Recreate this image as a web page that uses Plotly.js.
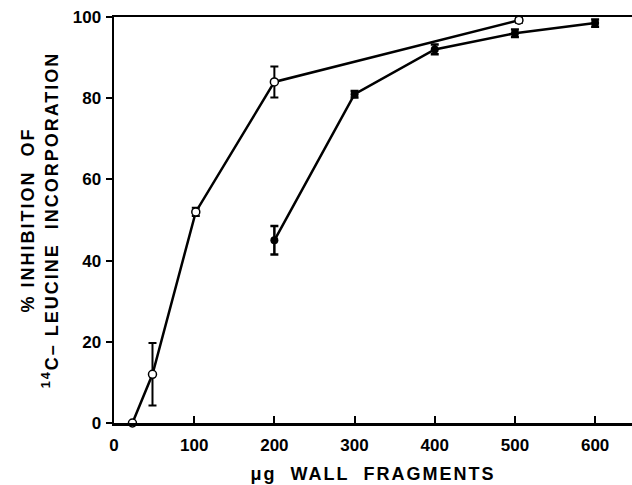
<!DOCTYPE html>
<html>
<head>
<meta charset="utf-8">
<script src="https://cdn.plot.ly/plotly-3.0.1.min.js"></script>
<style>
html,body{margin:0;padding:0;background:#fff;}
.xtitle, .ytitle { letter-spacing: 2px; }
</style>
</head>
<body>
<div id="chart" style="width:632px;height:485px;"></div>
<script>
// Open circles series
const openX = [23, 48, 102, 200, 505];
const openY = [0, 12, 52, 84, 99.2];
const openErr = [0, 7.7, 1, 3.8, 0.6];
// Filled circles series
const filledX = [200, 300, 400, 500, 600];
const filledY = [45, 81, 92, 96, 98.5];
const filledErr = [3.5, 0.8, 1.2, 0.9, 0.9];

const xTicks = [0, 100, 200, 300, 400, 500, 600];
const yTicks = [0, 20, 40, 60, 80, 100];

const fontFam = '"Liberation Sans", Arial, Helvetica, sans-serif';

const traces = [
  {
    x: openX, y: openY, type: 'scatter', mode: 'lines+markers',
    line: {color: '#000', width: 2.5},
    marker: {symbol: 'circle', size: 8, color: '#fff', line: {color: '#000', width: 1.5}},
    error_y: {type: 'data', array: openErr, visible: true, color: '#000', thickness: 2, width: 4},
    cliponaxis: false, showlegend: false
  },
  {
    x: filledX, y: filledY, type: 'scatter', mode: 'lines+markers',
    line: {color: '#000', width: 2.5},
    marker: {symbol: 'circle', size: 8, color: '#000'},
    error_y: {type: 'data', array: filledErr, visible: true, color: '#000', thickness: 2.5, width: 4},
    cliponaxis: false, showlegend: false
  }
];

const layout = {
  width: 632, height: 485,
  margin: {l: 114, r: 0, t: 17, b: 62},
  paper_bgcolor: '#fff', plot_bgcolor: '#fff',
  font: {family: fontFam, color: '#000', weight: 'bold'},
  xaxis: {
    range: [0, 646], tickvals: xTicks, ticktext: xTicks.map(String),
    ticks: 'inside', ticklen: 7, tickwidth: 2, tickcolor: '#000',
    showline: true, linewidth: 2.5, linecolor: '#000', mirror: true,
    showgrid: false, zeroline: false,
    tickfont: {size: 17, family: fontFam, weight: 'bold'},
    ticklabelstandoff: 5,
    title: {text: '\u03bcg&nbsp; WALL&nbsp; FRAGMENTS', font: {size: 18, family: fontFam, weight: 'bold'}, standoff: 14},
    automargin: false
  },
  yaxis: {
    range: [0, 100], tickvals: yTicks, ticktext: yTicks.map(String),
    ticks: 'outside', ticklen: 6, tickwidth: 2, tickcolor: '#000',
    showline: true, linewidth: 2.5, linecolor: '#000',
    showgrid: false, zeroline: false,
    tickfont: {size: 17, family: fontFam, weight: 'bold'},
    ticklabelstandoff: 1,
    title: {text: '% INHIBITION&nbsp; OF<br><sup>14</sup>C\u2013 LEUCINE&nbsp; INCORPORATION', font: {size: 18, family: fontFam, weight: 'bold'}, standoff: 10},
    automargin: false
  }
};

Plotly.newPlot('chart', traces, layout, {displayModeBar: false, staticPlot: true});
</script>
</body>
</html>
